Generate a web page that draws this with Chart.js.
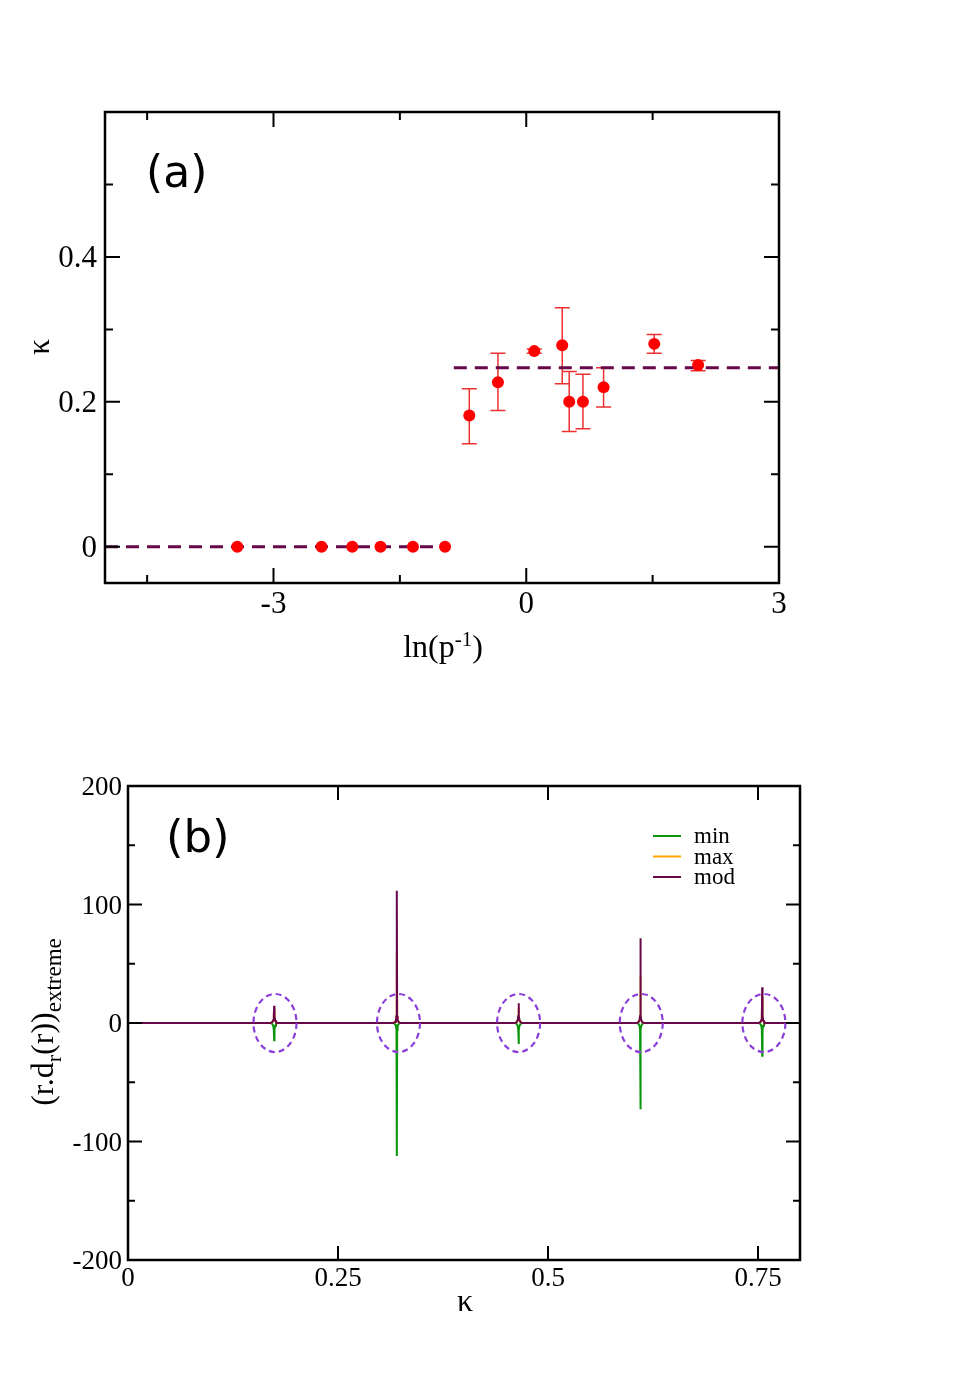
<!DOCTYPE html>
<html>
<head>
<meta charset="utf-8">
<script src="https://cdn.jsdelivr.net/npm/chart.js@4.4.1/dist/chart.umd.min.js"></script>
<style>
    html, body { margin: 0; padding: 0; background: #fff; }
    body { width: 972px; height: 1375px; position: relative; overflow: hidden; }
    canvas { position: absolute; left: 0; }
    #chartA { top: 0; }
    #chartB { top: 700px; }
</style>
</head>
<body>
<canvas id="chartA" width="972" height="700"></canvas>
<canvas id="chartB" width="972" height="675"></canvas>
<script>
// ---- panel (a): kappa vs ln(p^-1) ----
const lnInvP    = [-3.43, -2.43, -2.065, -1.73, -1.345, -0.964, -0.676, -0.336, 0.095, 0.427, 0.51, 0.673, 0.918, 1.519, 2.04];
const kappa     = [0, 0, 0, 0, 0, 0, 0.181, 0.227, 0.270, 0.278, 0.200, 0.200, 0.220, 0.280, 0.251];
const kappaLow  = [0, 0, 0, 0, 0, 0, 0.142, 0.188, 0.267, 0.225, 0.159, 0.163, 0.193, 0.267, 0.243];
const kappaHigh = [0, 0, 0, 0, 0, 0, 0.218, 0.267, 0.273, 0.330, 0.242, 0.238, 0.247, 0.293, 0.257];
const fitLowX   = [-5, -0.964];
const fitLowY   = [0, 0];
const fitHighX  = [-0.86, 3];
const fitHighY  = [0.247, 0.247];
const xMajorA = [-3, 0, 3];
const xMinorA = [-4.5, -1.5, 1.5];
const yMajorA = [0, 0.2, 0.4];
const yMinorA = [0.1, 0.3, 0.5];

// ---- panel (b): (r.d_r(r))_extreme vs kappa ----
const kGrid = [0,
    0.170, 0.172, 0.173, 0.1736, 0.174, 0.1744, 0.175, 0.176, 0.178,
    0.316, 0.318, 0.319, 0.3196, 0.320, 0.3204, 0.321, 0.322, 0.324,
    0.461, 0.463, 0.464, 0.4646, 0.465, 0.4654, 0.466, 0.467, 0.469,
    0.606, 0.608, 0.609, 0.6096, 0.610, 0.6104, 0.611, 0.612, 0.614,
    0.751, 0.753, 0.754, 0.7546, 0.755, 0.7554, 0.756, 0.757, 0.759,
    0.8];
const minVals = [0,
    0, -1, -2.5, -6, -14.6, -6, -2.5, -1, 0,
    0, -1, -2.5, -6, -112.2, -6, -2.5, -1, 0,
    0, -1, -2.5, -6, -17.7, -6, -2.5, -1, 0,
    0, -1, -2.5, -6, -72.8, -6, -2.5, -1, 0,
    0, -1, -2.5, -6, -27.6, -6, -2.5, -1, 0,
    0];
const maxVals = [0,
    0, 1, 2.5, 6, 11, 6, 2.5, 1, 0,
    0, 1, 2.5, 6, 59, 6, 2.5, 1, 0,
    0, 1, 2.5, 6, 13, 6, 2.5, 1, 0,
    0, 1, 2.5, 6, 39, 6, 2.5, 1, 0,
    0, 1, 2.5, 6, 22, 6, 2.5, 1, 0,
    0];
const modVals = [0,
    0, 1, 2.5, 6, 14.5, 6, 2.5, 1, 0,
    0, 1, 2.5, 6, 111.6, 6, 2.5, 1, 0,
    0, 1, 2.5, 6, 16.6, 6, 2.5, 1, 0,
    0, 1, 2.5, 6, 71.5, 6, 2.5, 1, 0,
    0, 1, 2.5, 6, 30.1, 6, 2.5, 1, 0,
    0];
const ringK = [0.175, 0.322, 0.465, 0.611, 0.757];
const xMajorB = [0, 0.25, 0.5, 0.75];
const yMajorB = [-200, -100, 0, 100, 200];
const yMinorB = [-150, -50, 50, 150];

const SERIF = "'Liberation Serif', 'Times New Roman', serif";
const SANS = "'DejaVu Sans', sans-serif";

function pts(xs, ys) {
    return xs.map((x, i) => ({ x: x, y: ys[i] }));
}

// draws pieces of text with sub/superscript offsets, centred on (0,0) of the current transform
function richText(ctx, parts) {
    let total = 0;
    parts.forEach(p => {
        ctx.font = p.size + 'px ' + SERIF;
        p.w = ctx.measureText(p.t).width;
        total += p.w;
    });
    let x = -total / 2;
    ctx.textAlign = 'left';
    ctx.textBaseline = 'alphabetic';
    parts.forEach(p => {
        ctx.font = p.size + 'px ' + SERIF;
        ctx.fillText(p.t, x, p.dy);
        x += p.w;
    });
}

// frame + inward ticks on all four sides
const framePlugin = {
    id: 'frame',
    afterDraw(chart, args, o) {
        const { ctx, chartArea: a, scales: { x, y } } = chart;
        ctx.save();
        ctx.strokeStyle = '#000';
        ctx.lineWidth = 2;
        ctx.beginPath();
        const xt = (vals, len, top) => vals.forEach(v => {
            const px = x.getPixelForValue(v);
            ctx.moveTo(px, a.bottom); ctx.lineTo(px, a.bottom - len);
            if (top) { ctx.moveTo(px, a.top); ctx.lineTo(px, a.top + len); }
        });
        const yt = (vals, len) => vals.forEach(v => {
            const py = y.getPixelForValue(v);
            ctx.moveTo(a.left, py); ctx.lineTo(a.left + len, py);
            ctx.moveTo(a.right, py); ctx.lineTo(a.right - len, py);
        });
        xt(o.xMajor, o.majorLen, true);
        xt(o.xMinor, o.minorLen, true);
        yt(o.yMajor, o.majorLen);
        yt(o.yMinor, o.minorLen);
        ctx.stroke();
        ctx.lineWidth = 2.5;
        ctx.strokeRect(a.left, a.top, a.width, a.height);
        ctx.restore();
    }
};

const errorBarPlugin = {
    id: 'errorBars',
    beforeDatasetsDraw(chart) {
        const { ctx, scales: { x, y } } = chart;
        ctx.save();
        ctx.strokeStyle = '#ee3030';
        ctx.lineWidth = 1.5;
        ctx.beginPath();
        lnInvP.forEach((v, i) => {
            if (kappaHigh[i] === kappaLow[i]) return;
            const px = x.getPixelForValue(v);
            const t = y.getPixelForValue(kappaHigh[i]);
            const b = y.getPixelForValue(kappaLow[i]);
            ctx.moveTo(px, t); ctx.lineTo(px, b);
            ctx.moveTo(px - 7.5, t); ctx.lineTo(px + 7.5, t);
            ctx.moveTo(px - 7.5, b); ctx.lineTo(px + 7.5, b);
        });
        ctx.stroke();
        ctx.restore();
    }
};

const labelsA = {
    id: 'labelsA',
    afterDraw(chart) {
        const ctx = chart.ctx;
        ctx.save();
        ctx.fillStyle = '#000';
        ctx.font = '44px ' + SANS;
        ctx.textAlign = 'left';
        ctx.textBaseline = 'alphabetic';
        ctx.fillText('(a)', 146, 187);
        // y title, rotated
        ctx.save();
        ctx.translate(42, 347);
        ctx.rotate(-Math.PI / 2);
        richText(ctx, [{ t: 'κ', size: 31, dy: 7 }]);
        ctx.restore();
        // x title
        ctx.save();
        ctx.translate(443, 657);
        richText(ctx, [{ t: 'ln(p', size: 32, dy: 0 }, { t: '-1', size: 21, dy: -11 }, { t: ')', size: 32, dy: 0 }]);
        ctx.restore();
        ctx.restore();
    }
};

const ringPlugin = {
    id: 'rings',
    afterDatasetsDraw(chart) {
        const { ctx, scales: { x, y } } = chart;
        ctx.save();
        ctx.strokeStyle = '#8c3fd9';
        ctx.lineWidth = 2.2;
        ctx.setLineDash([6, 4]);
        ringK.forEach(k => {
            const cx = x.getPixelForValue(k);
            const cy = y.getPixelForValue(0);
            const rx = Math.abs(x.getPixelForValue(k + 0.0256) - cx);
            const ry = Math.abs(y.getPixelForValue(24.5) - cy);
            ctx.beginPath();
            ctx.ellipse(cx, cy, rx, ry, 0, 0, Math.PI * 2);
            ctx.stroke();
        });
        ctx.restore();
    }
};

const labelsB = {
    id: 'labelsB',
    afterDraw(chart) {
        const ctx = chart.ctx;
        ctx.save();
        ctx.fillStyle = '#000';
        ctx.font = '45px ' + SANS;
        ctx.textAlign = 'left';
        ctx.textBaseline = 'alphabetic';
        ctx.fillText('(b)', 166, 152);
        // legend
        chart.data.datasets.forEach((ds, i) => {
            const ly = 136 + i * 20.5;
            ctx.strokeStyle = ds.borderColor;
            ctx.lineWidth = 2;
            ctx.beginPath();
            ctx.moveTo(653, ly); ctx.lineTo(681, ly);
            ctx.stroke();
            ctx.font = '23px ' + SERIF;
            ctx.fillText(ds.label, 694, ly + 7);
        });
        // x title
        ctx.save();
        ctx.translate(465, 611);
        richText(ctx, [{ t: 'κ', size: 32, dy: 0 }]);
        ctx.restore();
        // y title, rotated
        ctx.save();
        ctx.translate(53, 322);
        ctx.rotate(-Math.PI / 2);
        richText(ctx, [
            { t: '(r.d', size: 32, dy: 0 },
            { t: 'r', size: 22, dy: 8 },
            { t: '(r))', size: 32, dy: 0 },
            { t: 'extreme', size: 23, dy: 8 }
        ]);
        ctx.restore();
        ctx.restore();
    }
};

function axis(min, max, ticks, size, pad, shift, fit) {
    return {
        type: 'linear',
        min: min,
        max: max,
        afterBuildTicks: s => { s.ticks = ticks.map(v => ({ value: v })); },
        afterFit: fit,
        grid: { display: false, drawTicks: false },
        border: { display: false },
        ticks: {
            autoSkip: false,
            maxRotation: 0,
            padding: pad,
            labelOffset: shift,
            color: '#000',
            font: { family: SERIF, size: size },
            callback: v => String(v)
        }
    };
}

new Chart(document.getElementById('chartA'), {
    type: 'scatter',
    data: {
        datasets: [
            {
                label: 'kappa',
                data: pts(lnInvP, kappa),
                backgroundColor: '#ff0000',
                borderColor: '#ff0000',
                pointRadius: 6,
                pointBorderWidth: 0,
                order: 0
            },
            {
                label: 'fit low',
                data: pts(fitLowX, fitLowY),
                showLine: true,
                borderColor: '#67074a',
                borderWidth: 3,
                borderDash: [13, 8],
                pointRadius: 0,
                order: 1
            },
            {
                label: 'fit high',
                data: pts(fitHighX, fitHighY),
                showLine: true,
                borderColor: '#67074a',
                borderWidth: 3,
                borderDash: [13, 8],
                pointRadius: 0,
                order: 1
            }
        ]
    },
    options: {
        responsive: false,
        animation: false,
        layout: { padding: { left: 0, top: 112, right: 193, bottom: 57 } },
        plugins: {
            legend: { display: false },
            tooltip: { enabled: false },
            frame: { xMajor: xMajorA, xMinor: xMinorA, yMajor: yMajorA, yMinor: yMinorA, majorLen: 15, minorLen: 8 }
        },
        scales: {
            x: axis(-5, 3, xMajorA, 31, 3, 0, s => { s.height = 60; }),
            y: axis(-0.05, 0.6, yMajorA, 31, 8, 2, s => { s.width = 105; })
        }
    },
    plugins: [framePlugin, errorBarPlugin, labelsA]
});

new Chart(document.getElementById('chartB'), {
    type: 'scatter',
    data: {
        datasets: [
            {
                label: 'min',
                data: pts(kGrid, minVals),
                showLine: true,
                borderColor: '#0a960a',
                borderWidth: 2,
                pointRadius: 0,
                order: 2
            },
            {
                label: 'max',
                data: pts(kGrid, maxVals),
                showLine: true,
                borderColor: '#ffa500',
                borderWidth: 2,
                pointRadius: 0,
                order: 1
            },
            {
                label: 'mod',
                data: pts(kGrid, modVals),
                showLine: true,
                borderColor: '#67074a',
                borderWidth: 2,
                pointRadius: 0,
                order: 0
            }
        ]
    },
    options: {
        responsive: false,
        animation: false,
        layout: { padding: { left: 0, top: 86, right: 172, bottom: 55 } },
        plugins: {
            legend: { display: false },
            tooltip: { enabled: false },
            frame: { xMajor: xMajorB, xMinor: [], yMajor: yMajorB, yMinor: yMinorB, majorLen: 14, minorLen: 7 }
        },
        scales: {
            x: axis(0, 0.8, xMajorB, 27, 3, 0, s => { s.height = 60; }),
            y: axis(-200, 200, yMajorB, 27, 6, 2, s => { s.width = 128; })
        }
    },
    plugins: [framePlugin, ringPlugin, labelsB]
});
</script>
</body>
</html>
